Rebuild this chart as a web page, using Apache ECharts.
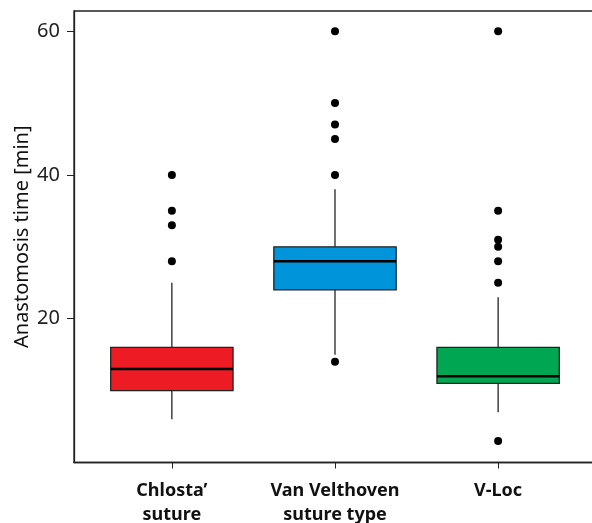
<!DOCTYPE html>
<html>
<head>
<meta charset="utf-8">
<script src="https://cdn.jsdelivr.net/npm/echarts@6/dist/echarts.min.js"></script>
<style>
  html, body { margin: 0; padding: 0; background: #fff; }
  #chart { width: 592px; height: 523px; }
</style>
</head>
<body>
<div id="chart"></div>
<script>
// groups on the x axis
const categories = ['Chlosta\u2019\nsuture', 'Van Velthoven\nsuture type', 'V-Loc'];
const boxColors = ['#ED1C24', '#0095DA', '#00A651'];

// box statistics per group [min]
const whiskerLow = [6, 15, 7];
const q1 = [10, 24, 11];
const medians = [13, 28, 12];
const q3 = [16, 30, 16];
const whiskerHigh = [25, 38, 23];

// outlying points per group
const outliers = [
  [40, 35, 33, 28],
  [60, 50, 47, 45, 40, 14],
  [60, 35, 31, 30, 28, 25, 3]
];

const yTicks = [20, 40, 60];

const boxData = categories.map((c, i) => ({
  value: [i + 1, whiskerLow[i], q1[i], medians[i], q3[i], whiskerHigh[i]],
  itemStyle: { color: boxColors[i] }
}));

const outlierData = [];
outliers.forEach((vals, i) => {
  vals.forEach(v => outlierData.push([i + 1, v]));
});

const chart = echarts.init(document.getElementById('chart'));

const option = {
  animation: false,
  grid: {
    left: 74,
    top: 11,
    right: -4,
    bottom: 60.5,
    outerBoundsMode: 'none',
    containLabel: false,
    show: true,
    borderColor: '#222',
    borderWidth: 1.3
  },
  xAxis: {
    type: 'value',
    min: 0.4,
    max: 3.6,
    splitLine: { show: false },
    axisLine: { show: true, lineStyle: { color: '#222', width: 1.3 } },
    axisTick: { show: true, customValues: [1, 2, 3], length: 6, lineStyle: { color: '#222' } },
    axisLabel: {
      customValues: [1, 2, 3],
      formatter: v => categories[Math.round(v) - 1],
      fontFamily: 'Noto Sans',
      fontWeight: 'bold',
      fontSize: 18,
      lineHeight: 24,
      color: '#111',
      margin: 16
    }
  },
  yAxis: {
    type: 'value',
    min: 0,
    max: 62.8,
    name: 'Anastomosis time [min]',
    nameLocation: 'middle',
    nameGap: 42,
    nameMoveOverlap: false,
    nameTextStyle: { fontFamily: 'Noto Sans', fontSize: 20, color: '#111' },
    splitLine: { show: false },
    axisLine: { show: true, lineStyle: { color: '#222', width: 1.3 } },
    axisTick: { show: true, customValues: yTicks, length: 7, lineStyle: { color: '#222' } },
    axisLabel: {
      customValues: yTicks,
      fontFamily: 'Noto Sans',
      fontSize: 20,
      color: '#222',
      margin: 14
    }
  },
  series: [
    {
      type: 'custom',
      data: boxData,
      renderItem: function (params, api) {
        const x = api.value(0);
        const low = api.coord([x, api.value(1)]);
        const lo = api.coord([x, api.value(2)]);
        const med = api.coord([x, api.value(3)]);
        const hi = api.coord([x, api.value(4)]);
        const high = api.coord([x, api.value(5)]);
        const halfW = api.size([0.75, 0])[0] / 2;
        const fill = api.visual('color');
        return {
          type: 'group',
          children: [
            {
              type: 'line',
              shape: { x1: low[0], y1: low[1], x2: lo[0], y2: lo[1] },
              style: { stroke: '#111', lineWidth: 1.2 }
            },
            {
              type: 'line',
              shape: { x1: hi[0], y1: hi[1], x2: high[0], y2: high[1] },
              style: { stroke: '#111', lineWidth: 1.2 }
            },
            {
              type: 'rect',
              shape: { x: lo[0] - halfW, y: hi[1], width: halfW * 2, height: lo[1] - hi[1] },
              style: { fill: fill, stroke: '#222', lineWidth: 1.3 }
            },
            {
              type: 'line',
              shape: { x1: med[0] - halfW, y1: med[1], x2: med[0] + halfW, y2: med[1] },
              style: { stroke: '#000', lineWidth: 2.5 }
            }
          ]
        };
      }
    },
    {
      type: 'scatter',
      data: outlierData,
      symbol: 'circle',
      symbolSize: 8,
      itemStyle: { color: '#000', opacity: 1 }
    }
  ]
};

chart.setOption(option);
</script>
</body>
</html>
